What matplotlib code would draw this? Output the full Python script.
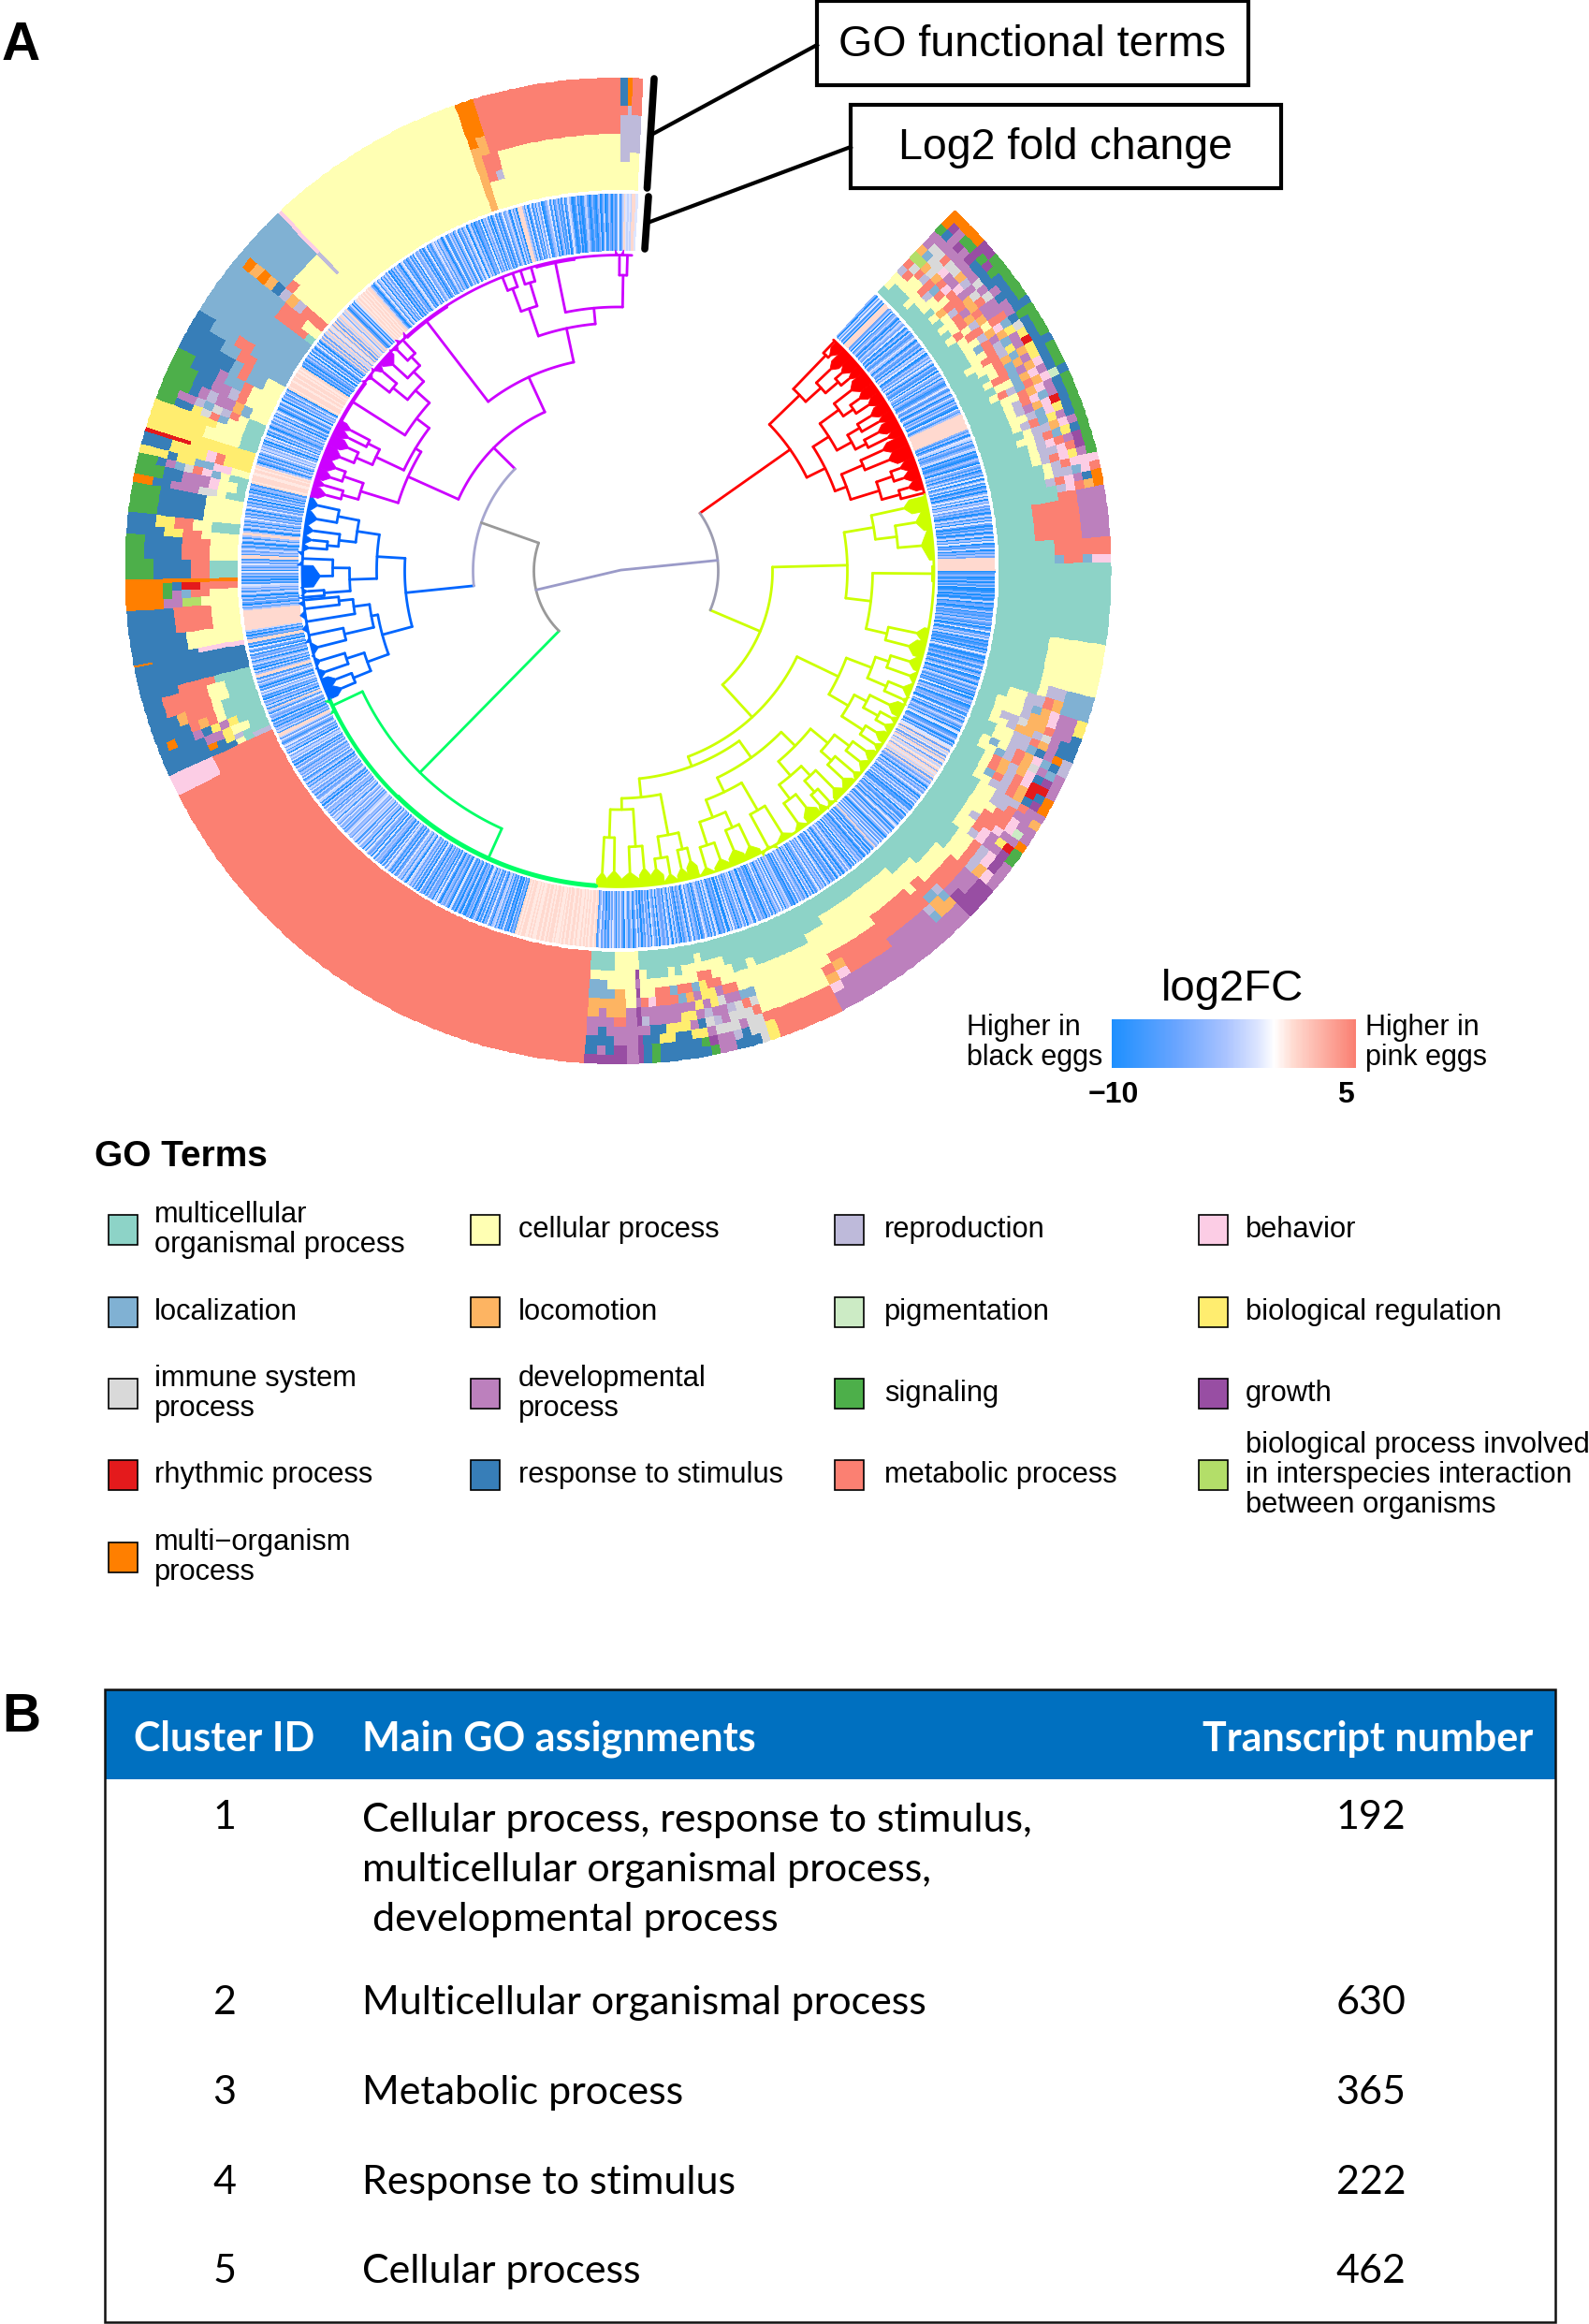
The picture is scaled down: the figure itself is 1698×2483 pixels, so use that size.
from __future__ import annotations

import matplotlib
matplotlib.use("Agg")
import matplotlib.pyplot as plt
import numpy as np
from matplotlib.colors import LinearSegmentedColormap, ListedColormap
from matplotlib.patches import Rectangle

W, H = 1698, 2483
CX, CY = 660.5, 610.0
RMAX = 530.0
TABLE_SIZE = 31
plt.rcParams["font.family"] = ["Liberation Sans", "DejaVu Sans"]

# GO terms: code, legend label, colour
TERM_CODES = "MCRBLOPYIDSGHTANX"
TERM_COLORS = ["#8DD3C7", "#FFFFB3", "#BEBADA", "#FCCDE5", "#80B1D3", "#FDB462", "#CCEBC5", "#FFED6F",
               "#D9D9D9", "#BC80BD", "#4DAF4A", "#984EA3", "#E41A1C", "#377EB8", "#FB8072", "#B3DE69", "#FF7F00"]

LEGEND_COLUMNS = [
    [("M", "multicellular\norganismal process"), ("L", "localization"), ("I", "immune system\nprocess"),
     ("H", "rhythmic process"), ("X", "multi\u2212organism\nprocess")],
    [("C", "cellular process"), ("O", "locomotion"), ("D", "developmental\nprocess"), ("T", "response to stimulus")],
    [("R", "reproduction"), ("P", "pigmentation"), ("S", "signaling"), ("A", "metabolic process")],
    [("B", "behavior"), ("Y", "biological regulation"), ("G", "growth"),
     ("N", "biological process involved\nin interspecies interaction\nbetween organisms")],
]

# ring position (degrees clockwise from north) where each GO column ends
GO_START = 43.0
GO_END = [
    44, 45, 46, 47, 48, 49, 50, 51, 52, 53, 54, 55, 56, 57, 58, 59, 60, 61, 62, 63, 64, 65, 66, 67, 68, 69, 70,
    71, 72, 73, 74, 75, 76, 77, 78, 79, 80, 81, 82, 86, 88, 89, 98.7, 105, 106.5, 108,
    109, 110, 111, 112, 113, 114, 115, 116, 117, 118, 119, 120, 121, 122, 123, 124, 125, 126, 127, 129, 130.5,
    133, 134.5, 135.5, 137, 138, 144, 150, 151.5, 153, 160.8,
    162, 163, 164, 165, 166, 167, 168, 169, 170, 171, 172, 173, 174, 175, 176, 177, 177.6, 179, 180.5, 181.5,
    182.5, 184, 243, 245.5,
    246.3, 247, 248.2, 249.3, 250.5, 252, 254.5, 255.5, 258.7, 259, 259.7, 262, 265.3, 266.5, 267.5, 268.5, 269,
    271.5, 274.4, 275.5, 277, 280.5, 281.5, 283, 284, 285, 286.5, 287, 288, 289.5, 290.5, 291.5, 292.5, 294,
    295.5, 297, 299, 300.5, 302, 306.5, 307.5, 309, 310.5, 312, 316.5, 317, 340.7, 341.8, 343, 344, 360.3,
    361.2, 361.7, 362.9,
]
# one string per column, inner level to outer level
GO_STACKS = [
    "MCCRANODDSXX", "MMCAINLIDTGX", "MMCCAOIIDDDX", "MMCCRIIADGSX", "MCCAAOBIDDSX", "MMCRLADIDGGG", "MMCCABDODTSG",
    "MMMCCABRDTGS", "MMCOAADDITSS", "MMMCRAOIDTTS", "MMCCADOAIDTS", "MMMCAOADDTTS", "MMCACRODDDTS", "MMMCAACAADTT",
    "MMMCCROBLTSS", "MMMCLADOYITS", "MMMCCARLDYTS", "MMCCAARYDHTS", "MMMCCAOLOYTT", "MMMMCALODYTS", "MMMCAALDOBTS",
    "MMMMCCLOBDTS", "MMMCARLAOBPT", "MMMMCCAOBDTS", "MMMMCRABLDTS", "MMMMCRDOBHTS", "MMMMCCRLBYTS", "MMMMCRALYDTS",
    "MMMMMCRROBDS", "MMMMCCRALYTS", "MMMMMCRBADGS", "MMMMMCRRBAGS", "MMMMMCRABYDS", "MMMMMMCRABBB", "MMMMMMCRRLBA",
    "MMMMMMRABDTX", "MMMMMMMRBAOX", "MMMMMMMAADDD", "MMMMAAAAADDD", "MMMMAAAAADDD", "MMMMMMAAAAAA", "MMMMMMLAALBB",
    "MMMMMMMMMMMM", "MMMMMMCCCCCC", "MMMMMMCRRLLL", "MMMCCRRAOLLL",
    "MMCCCRLOBDDY", "MMCCCROOBDDY", "MMCRRIOOADDT", "MMCCROORIDTT", "MMMCCRRAODTT", "MMMCCRRLTDXR", "MMCLCRAOBLTR",
    "MMCCLRAOIDLD", "MMMCAOROBTGD", "MMMCAORABHHD", "MMMCLARAOHTX", "MMMCCRRAOTGX", "MMMMCCRRRADD", "MMMMCCRRADDO",
    "MMMMCCCAABDD", "MMMMCCAAABPD", "MMMMCRAABDDX", "MMMMCCABDYHS", "MMMMCCRBDDGS", "MMMMMCCARBGD", "MMMMMCCAROBD",
    "MMMMCCAADDGG", "MMMMCCAADGGG", "MMMCCCARLODD", "MMMCCAALOODD", "MMMCCCAARLDD", "MMCCCAAADDDD", "MMCCCCAAADDD",
    "MMMCCCAOBDDD", "MMMCCCCAOBDD", "MMMMCCCCCAAA",
    "MMMCCCCCCAYY", "MMMMCCLIAIII", "MMMMCCLAIIIT", "MMMCCADIIDTT", "MMCCCADRIIRT", "MMCCADIDDIDD", "MMCAAYYDRIDD",
    "MCCAYYDRIDGS", "MMCCLDYDTYST", "MMCCAODYDYTT", "MMMCALDYYTTT", "MMCCLADDYTTT", "MMMCAADDYYTT", "MMMCAADDTYTT",
    "MMMCCBDDTTSS", "MMCCCADRDTTT", "CCGDGDGGDGGG", "CCCCCCDDDDDD", "CCCCOOOADDGG", "MMCCLOODDTTG",
    "MMCLLODDTTDG", "MMCLLOODDTTG", "AAAAAAAAAAAA", "AAAAAAABBBBB",
    "RRMCTTTTTTTT", "MMMRYTXTTTTT", "MMCCYDDTTTTT", "MMMYDYTDTTXT", "MMMMCAOATTTT", "MMMMCAAAOTTT", "MMMCCAAAAATT",
    "MMMMAAAATTTT", "TTTTTTTTTTTT", "TTTTTTTTTTXX", "BBBBBTTTTTTT", "CCCCCCTTTTTT", "CCCAAAATTTTT", "CCCCNNDDXXXX",
    "CCCAALDSXXXX", "AAAAHHTSXXXX", "XXXXXXXXXXXX",
    "MMMAATTTTSSS", "CCCAAATTTTSS", "CCCCAAYYTTTT", "MMMCCAAYYTTT", "CCCCTTTTTSSS", "MMCIIDDDTTXX", "MCCBDDDTTSSS",
    "MMCLBAILDTSS", "CCBBLLYYTYYY", "YYYABYYYYTTT", "YYYYYYYHHHHH", "YYYYYYYYYYYY", "MMCCCCYYYYYY", "MMCCCYYYYYYY",
    "MMCCLAIYTTSS", "MMCARILRDDSS", "CCLODDRDTSSS",
    "CCCARDDTTSSS", "CCCALLDTTTSS", "CCLLALTTTTTT", "LLLLAALLTTTT", "LLLLLAALLLTT", "LLLLLLLLLLLL", "MAAAALLLLLLL",
    "CCAAALLLLLLL", "AAARORTOXOXL", "CCCCCALLLLLL", "CCCCCCLLLLLL", "CCCRRRBBBBBB", "CCCCCCCCCCCC", "OOOOOOOXXXXX",
    "CCCAAAOOXXXX", "CCCRAAAAAAAA", "CCCCCCAAAAAA",
    "CCCRRRRRATTT", "CCCRRRRRRXXX", "CCCCRRRRAAAA",
]

LOG2FC_VALUES = [-10, -8, -6, -4.5, -3, -2, -1, 0.7, 1.2, 2]
LOG2FC_ROWS = [
    "3052614088882406135204153260140521364025",
    "2140536014251630421506315042013621450263",
    "0425106314888888888831402650421365031024",
    "2063140251603615024036150426241302514062",
    "0314025041602150314288888888012301403150",
    "0140201502301402130421502601415020130416",
    "2013024015203601420531402060142501324016",
    "1402531405601253041668285728386285783868",
    "5828425305142630415261402153604215140362",
    "0415263041526153841504162031425061403625",
    "2041630521403615241631405260413526140215",
    "3405162530416250314226015340625130426150",
    "0513204615031462051341620531402615036142",
    "2405136042513041620531460251403625130426",
    "3187887878787787887887878778788787887887",
    "7878778878780315020513041540261305140362",
    "0523015024031560241340261503251403260415",
    "1425603514362150314626150243516042361504",
    "3625154624365241536246153625143625041563",
    "2514263514053162524136250416352604152631",
    "3625881524031504236148150426031526140362",
    "5188415041530524160260418813041588888888",
    "8888414025140351425614031526041362518814",
    "2531402514884025140362514036251406251403",
    "4187888778878740251403625361405260415203",
    "4152504163025146052416308788878878878788",
    "0314024150614026150383828583868382838586",
    "3858202504168787878787885203614604152603",
    "0415230461302514062351402603146251430261",
    "1524036025146035140231604251503614026135",
    "2051408884150261405260134615024031502641",
    "0140201452013102402501420313602586565886",
]


# dendrogram: (height, child, child...), float = single leaf, ("f", height, from, to) = dense block of leaves
def F(r, a, b):
    return ("f", r, a, b)


TREE_RED = (225,
    (270,
        (320, 43.3, F(322, 43.6, 45.5)),
        (292, F(312, 45.5, 47.5), (310, F(318, 47.5, 49.5), F(320, 49.5, 51)))),
    (247,
        (267,
            (292, F(314, 51, 53.5), (305, F(316, 53.5, 55.5), F(320, 55.5, 57.5))),
            (285, (300, F(316, 57.5, 59.5), F(320, 59.5, 61)), (298, F(314, 61, 63), F(320, 63, 64.5)))),
        (260,
            (285, F(310, 64.5, 66.5), F(312, 66.5, 69)),
            (292, (310, F(320, 69, 71), F(320, 71, 73)), (312, F(322, 73, 75), 75.7)))))

TREE_YELLOW = (165,
    (245,
        (277, F(312, 76.3, 79), (300, F(322, 79, 82.5), F(325, 82.5, 88))),
        (272, (336, 89.2, 91.8), (295, F(325, 100.5, 103), F(320, 103, 106)))),
    (212,
        (261,
            (290, (305, F(325, 106, 108.5), F(330, 108.5, 111)), (312, F(328, 111, 113.5), F(332, 113.5, 115))),
            (285, (300, F(322, 115, 117.5), (318, F(330, 117.5, 119), F(328, 119, 121))),
                  (312, F(324, 121, 123), F(330, 123, 125)))),
        (223,
            (245,
                (266,
                    (290, (310, F(326, 125, 127), F(328, 127, 129.5)), (305, F(330, 129.5, 131.5), F(326, 131.5, 134))),
                    (286, (300, F(326, 134, 136.5), (316, F(332, 136.5, 138.5), F(328, 138.5, 140))),
                          (305, F(322, 140, 143), F(330, 143, 146)))),
                (262,
                    (296, F(330, 146, 150), F(334, 150, 153)),
                    (282, (300, F(325, 153, 156), F(322, 156, 159)), (308, F(326, 159, 162), F(330, 162, 165))))),
            (243,
                (287, (305, F(318, 165, 167), F(324, 167, 169)), (310, F(328, 169, 171.5), F(320, 171.5, 174))),
                (255, (295, F(318, 174, 176), F(322, 176, 179.5)), (285, F(320, 179.5, 182), F(322, 182, 184)))))))

TREE_GREEN = (302, (336, 184.3, 224.3), F(335, 243.5, 246))

TREE_BLUE = (228,
    (258,
        (282, (305, F(328, 281, 283.6), F(326, 278.5, 281)), (300, F(328, 276.5, 278.5), (312, F(328, 275, 276.5), F(330, 273.5, 275)))),
        (287, (305, F(335, 271, 273.5), F(318, 267, 271)), (315, F(332, 265.5, 267), 265.2))),
    (261,
        (268, (285, (300, F(335, 264.2, 265.2), F(335, 262, 264.2)), F(335, 259.5, 262)), (300, F(335, 257, 259.5), F(330, 254.5, 257))),
        (285, (305, F(332, 252, 254.5), F(330, 250, 252)), (305, F(322, 248, 250), F(320, 246, 248)))))

TREE_MAGENTA = (187,
    (246,
        (288, (306, F(322, 283.6, 285.5), F(326, 285.5, 287)), (310, F(322, 287, 289), F(320, 289, 291))),
        (253,
            (286, (305, F(320, 291, 293.5), F(316, 293.5, 295.5)), (300, F(320, 295.5, 297), F(322, 297, 298.5))),
            (270,
                (336, 298.5, 306.5),
                (290,
                    (310, F(333, 306.5, 309.5), F(328, 309.5, 311)),
                    (305, F(325, 311, 314), (318, F(332, 314, 316), F(335, 316, 318))))))),
    (228,
        (336, 318.0, 327.0),
        (265,
            (296, (322, 338.5, 340.5), (322, 342.0, 344.0)),
            (282, (336, 345.0, 352.0), (316, F(335, 359.5, 361), 361.7)))))

CLUSTER_TREES = [TREE_RED, TREE_YELLOW, TREE_GREEN, TREE_BLUE, TREE_MAGENTA]
CLUSTER_COLORS = ["#FF0000", "#CCFF00", "#00FF66", "#0066FF", "#CC00FF"]
CLUSTER_SPANS = [(43, 76), (76, 184), (184, 246), (246, 283.6), (283.6, 362.5)]

TABLE_HEAD = ["Cluster ID", "Main GO assignments", "Transcript number"]
TABLE_IDS = ["1", "2", "3", "4", "5"]
TABLE_GO = [
    "Cellular process, response to stimulus,\nmulticellular organismal process,\n developmental process",
    "Multicellular organismal process",
    "Metabolic process",
    "Response to stimulus",
    "Cellular process",
]
TABLE_COUNTS = ["192", "630", "365", "222", "462"]

FC_NORM = plt.Normalize(-10, 5)
FC_CMAP = LinearSegmentedColormap.from_list("log2fc", [
    (0.0, "#1E90FF"), (4 / 15, "#6AA5FF"), (7 / 15, "#A9C3FF"), (9 / 15, "#DDE5FF"), (10 / 15, "#FFFFFF"),
    (11.2 / 15, "#FFDAD0"), (1.0, "#FA8072")])


def polar_line(ax, thetas, rs, color, lw=2.0):
    ax.plot(np.radians(thetas), rs, color=color, lw=lw, solid_capstyle="round", solid_joinstyle="round")


def arc(ax, t1, t2, r, color, lw=2.0):
    ts = np.linspace(t1, t2, max(2, int(abs(t2 - t1) * 2) + 2))
    polar_line(ax, ts, np.full_like(ts, r), color, lw)


def draw_node(ax, node, color):
    if isinstance(node, (float, int)):
        return float(node), 337.0
    if node[0] == "f":
        r0, a, b = node[1:]
        mid = (a + b) / 2
        ax.fill(np.radians([a, a, mid, b, b]), [337, r0 + 8, r0, r0 + 8, 337], color=color, lw=0.6)
        return mid, r0
    r = node[0]
    kids = [draw_node(ax, c, color) for c in node[1:]]
    ts = [k[0] for k in kids]
    arc(ax, min(ts), max(ts), r, color)
    for t, rc in kids:
        polar_line(ax, [t, t], [r, rc], color)
    return (ts[0] + ts[-1]) / 2, r


def draw_ring(ax):
    code_index = {c: i for i, c in enumerate(TERM_CODES)}
    assert len(GO_END) == len(GO_STACKS)
    edges = np.array([GO_START] + GO_END, dtype=float)
    fine = np.union1d(edges, np.arange(44, 363, 0.5))
    mids = (fine[:-1] + fine[1:]) / 2
    cols = np.searchsorted(edges, mids) - 1
    stack = np.array([[code_index[c] for c in s] for s in GO_STACKS])
    levels = np.linspace(407, 527, stack.shape[1] + 1)
    ax.pcolormesh(np.radians(fine), levels, stack[cols].T, cmap=ListedColormap(TERM_COLORS),
                  vmin=-0.5, vmax=len(TERM_COLORS) - 0.5, shading="flat")

    ts, vals = [43.0], []
    for k, row in enumerate(LOG2FC_ROWS):
        ts.extend(np.linspace(43 + 10 * k, 53 + 10 * k, len(row) + 1)[1:])
        vals.extend(LOG2FC_VALUES[int(c)] for c in row)
    ax.pcolormesh(np.radians(ts), [342, 403], np.array([vals]), cmap=FC_CMAP, norm=FC_NORM, shading="flat")


def draw_dendrogram(ax):
    nodes = []
    for tree, color, span in zip(CLUSTER_TREES, CLUSTER_COLORS, CLUSTER_SPANS):
        arc(ax, span[0], span[1], 337.5, color, 3.0 if color == "#00FF66" else 2.0)
        nodes.append(draw_node(ax, tree, color))
    red, yellow, green, blue, magenta = nodes
    # top of the tree, where the colours stop
    polar_line(ax, [red[0], red[0]], [107, red[1]], "#FF0000")
    polar_line(ax, [yellow[0], yellow[0]], [107, yellow[1]], "#CCFF00")
    polar_line(ax, [green[0], green[0]], [90, green[1]], "#00FF66")
    polar_line(ax, [blue[0], blue[0]], [155, blue[1]], "#0066FF")
    polar_line(ax, [magenta[0], magenta[0]], [155, magenta[1]], "#CC00FF")
    arc(ax, blue[0], magenta[0], 155, "#A6A6CF")
    upper = (blue[0] + magenta[0]) / 2
    arc(ax, green[0], upper, 90, "#999999")
    polar_line(ax, [upper, upper], [90, 155], "#999999")
    arc(ax, red[0], yellow[0], 107, "#9C9CB0")
    left = (green[0] + upper) / 2
    right = (red[0] + yellow[0]) / 2
    polar_line(ax, [left, 72, right], [90, 3, 107], "#9A9AC8")


def draw_overlay(ov):
    # panel letters
    ov.text(2, 49, "A", fontsize=41, fontweight="bold", va="center", ha="left")
    ov.text(2, 1835, "B", fontsize=41, fontweight="bold", va="center", ha="left")

    # callouts
    for x0, y0, x1, y1, label, lx in [(873, 1, 1334, 91, "GO functional terms", 1103),
                                      (909, 112, 1369, 201, "Log2 fold change", 1139)]:
        ov.add_patch(Rectangle((x0, y0), x1 - x0, y1 - y0, fc="white", ec="black", lw=3))
        ov.text(lx, (y0 + y1) / 2 + 2, label, fontsize=33.5, ha="center", va="center")
    ov.plot([699, 691.5], [84, 201], color="black", lw=5.5, solid_capstyle="round")
    ov.plot([693, 689], [210, 266], color="black", lw=5.5, solid_capstyle="round")
    ov.plot([873, 696], [48, 144], color="black", lw=3)
    ov.plot([909, 692], [157, 238], color="black", lw=3)

    # colour key
    grad = np.linspace(-10, 5, 300)[None, :]
    ov.pcolormesh(np.linspace(1188, 1449, 301), [1089, 1141], grad, cmap=FC_CMAP, norm=FC_NORM, shading="flat")
    ov.text(1317, 1057, "log2FC", fontsize=34, ha="center", va="center")
    ov.text(1033, 1114, "Higher in\nblack eggs", fontsize=22, ha="left", va="center", linespacing=1.07)
    ov.text(1459, 1114, "Higher in\npink eggs", fontsize=22, ha="left", va="center", linespacing=1.07)
    ov.text(1190, 1170, "\u221210", fontsize=23, fontweight="bold", ha="center", va="center")
    ov.text(1438, 1170, "5", fontsize=23, fontweight="bold", ha="center", va="center")

    # GO legend
    ov.text(101, 1236, "GO Terms", fontsize=28, fontweight="bold", ha="left", va="center")
    swatch_x = [116, 503, 892, 1281]
    text_x = [165, 554, 945, 1331]
    rows_y = [1314, 1402, 1489, 1576, 1664]
    colours = dict(zip(TERM_CODES, TERM_COLORS))
    for col, entries in enumerate(LEGEND_COLUMNS):
        for row, (code, label) in enumerate(entries):
            ov.add_patch(Rectangle((swatch_x[col], rows_y[row] - 16), 31, 32, fc=colours[code], ec="black", lw=1.2))
            ov.text(text_x[col], rows_y[row], label, fontsize=22.2, ha="left", va="center", linespacing=1.07)

    # table
    body = {"family": ["Lato", "DejaVu Sans"], "fontsize": TABLE_SIZE, "va": "center"}
    ov.add_patch(Rectangle((113, 1806), 1549, 95, fc="#0070C0", ec="none"))
    ov.add_patch(Rectangle((112, 1805), 1550, 676, fc="none", ec="#111111", lw=1.8))
    for x, ha, label in zip([240, 387, 1462], ["center", "left", "center"], TABLE_HEAD):
        ov.text(x, 1858, label, fontweight="bold", color="white", ha=ha, **body)
    rows_top = [1998, 2140, 2236, 2332, 2427]
    first_line = [1942, 2140, 2236, 2332, 2427]
    for i in range(5):
        ov.text(240, first_line[i], TABLE_IDS[i], ha="center", **body)
        ov.text(1465, first_line[i], TABLE_COUNTS[i], ha="center", **body)
        ov.text(387, rows_top[i], TABLE_GO[i], ha="left", linespacing=1.5, **body)


def main() -> None:
    fig = plt.figure(figsize=(W / 100, H / 100), dpi=100)
    ax = fig.add_axes([(CX - RMAX) / W, 1 - (CY + RMAX) / H, 2 * RMAX / W, 2 * RMAX / H], projection="polar")
    ax.set_theta_zero_location("N")
    ax.set_theta_direction(-1)
    draw_ring(ax)
    draw_dendrogram(ax)
    ax.set_ylim(0, RMAX)
    ax.axis("off")

    ov = fig.add_axes([0, 0, 1, 1], zorder=5)
    ov.set_xlim(0, W)
    ov.set_ylim(H, 0)
    ov.axis("off")
    draw_overlay(ov)
    ov.set_xlim(0, W)
    ov.set_ylim(H, 0)

    fig.savefig("out.png", dpi=100)
    plt.close(fig)


if __name__ == "__main__":
    main()
